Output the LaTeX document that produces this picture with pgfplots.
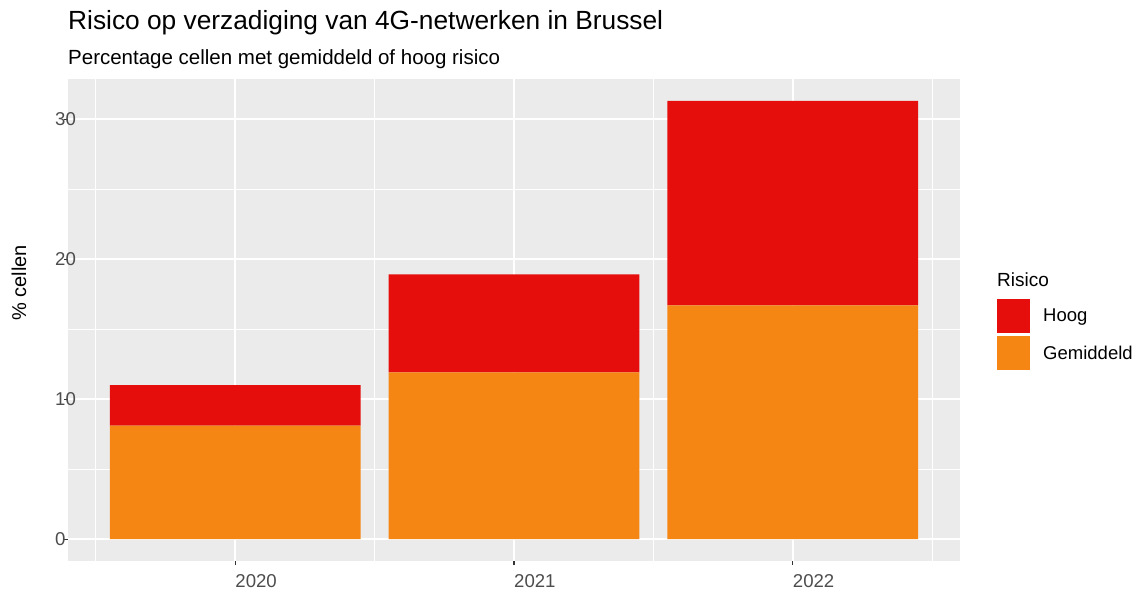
\documentclass[border=0pt]{standalone}
\usepackage{fontspec}
\setmainfont{Liberation Sans}
\usepackage{pgfplots}
\pgfplotsset{compat=1.18}
\definecolor{hoog}{HTML}{E60D0D}
\definecolor{gem}{HTML}{F58614}
\definecolor{panelbg}{HTML}{EBEBEB}
\definecolor{ticktxt}{HTML}{4D4D4D}
\definecolor{tickmk}{HTML}{333333}
\begin{document}
\begin{tikzpicture}[x=1pt,y=1pt]
\useasboundingbox (0,0) rectangle (1142,591);
\begin{axis}[
  at={(68pt,30pt)}, anchor=south west,
  scale only axis, width=892pt, height=482pt,
  ybar stacked, bar width=0.9,
  xmin=0.4, xmax=3.6, ymin=-1.565, ymax=32.865,
  xtick={1,2,3}, xticklabels={2020,2021,2022},
  ytick={0,10,20,30},
  minor xtick={0.5,1.5,2.5,3.5}, minor ytick={5,15,25},
  grid=both,
  major grid style={white, line width=1.6pt},
  minor grid style={white, line width=0.8pt},
  axis background/.style={fill=panelbg},
  axis line style={draw=none},
  tick align=outside, tick pos=left,
  major tick length=4pt, minor tick length=0pt,
  major tick style={tickmk, line width=1.1pt},
  /pgf/number format/assume math mode=true,
  ticklabel style={font=\fontsize{18.6}{20}\selectfont, text=ticktxt, inner sep=0pt},
  xticklabel style={anchor=north west, yshift=-9pt},
  yticklabel style={anchor=west, xshift=-9pt},
  legend style={at={(axis description cs:1.0415,0.5437)}, anchor=north west,
    draw=none, fill=none, inner sep=0pt, row sep=3pt, column sep=13pt,
    font=\fontsize{18.5}{20}\selectfont, cells={anchor=west},
    nodes={inner sep=0pt}},
  reverse legend,
]
\addplot+[ybar, fill=gem, draw=none,
  legend image code/.code={\fill[gem] (0pt,-17pt) rectangle (33pt,17pt);}]
  coordinates {(1,8.1) (2,11.9) (3,16.7)};
\addlegendentry{Gemiddeld}
\addplot+[ybar, fill=hoog, draw=none,
  legend image code/.code={\fill[hoog] (0pt,-17pt) rectangle (33pt,17pt);}]
  coordinates {(1,2.9) (2,7.0) (3,14.6)};
\addlegendentry{Hoog}
\end{axis}
\node[anchor=base west, inner sep=0pt, font=\fontsize{26.3}{30}\selectfont] at (68,561.7) {Risico op verzadiging van 4G-netwerken in Brussel};
\node[anchor=base west, inner sep=0pt, font=\fontsize{20.5}{24}\selectfont] at (68,526.7) {Percentage cellen met gemiddeld of hoog risico};
\node[anchor=base west, inner sep=0pt, font=\fontsize{19}{22}\selectfont] at (997,304) {Risico};
\node[rotate=90, inner sep=0pt, font=\fontsize{20}{24}\selectfont] at (19,308) {\% cellen};
\end{tikzpicture}
\end{document}
